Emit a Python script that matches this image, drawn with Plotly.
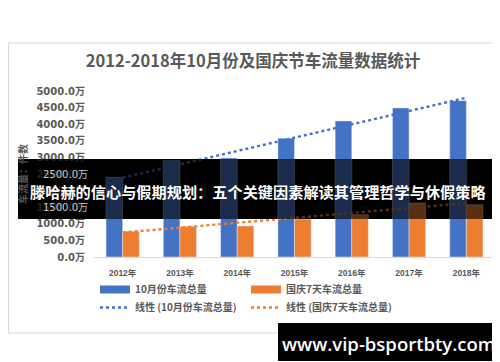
import numpy as np
import plotly.graph_objects as go

# ---- data ----
years = ["2012年", "2013年", "2014年", "2015年", "2016年", "2017年", "2018年"]
oct_total = [2400, 2900, 2980, 3580, 4100, 4490, 4710]      # 10月份车流总量 (万)
holiday_total = [775, 925, 935, 1145, 1275, 1625, 1575]     # 国庆7天车流总量 (万)
name_oct = "10月份车流总量"
name_hol = "国庆7天车流总量"
title_text = "2012-2018年10月份及国庆节车流量数据统计"
ytitle_text = "车流量：件数"
banner_text = "滕哈赫的信心与假期规划：五个关键因素解读其管理哲学与休假策略"
url_text = "www.vip-bsportbty.com"

BLUE = "#4472C4"
ORANGE = "#ED7D31"
GRAY = "#595959"

W, H = 500, 362
L, R, T, B = 86, 13, 83, 113
PW, PH = W - L - R, H - T - B


def px2x(px):
    return (px - L) / PW


def py2y(py):
    return (H - B - py) / PH


idx = np.arange(len(years))
k1, b1 = np.polyfit(idx, oct_total, 1)
k2, b2 = np.polyfit(idx, holiday_total, 1)
trend_oct = k1 * idx + b1
trend_hol = k2 * idx + b2

fig = go.Figure()
fig.add_trace(go.Bar(x=years, y=oct_total, name=name_oct, marker_color=BLUE,
                     showlegend=False))
fig.add_trace(go.Bar(x=years, y=holiday_total, name=name_hol, marker_color=ORANGE,
                     showlegend=False))
fig.add_trace(go.Scatter(x=years, y=trend_oct, mode="lines", showlegend=False,
                         line=dict(color=BLUE, width=2.4, dash="dot")))
fig.add_trace(go.Scatter(x=years, y=trend_hol, mode="lines", showlegend=False,
                         line=dict(color=ORANGE, width=2.4, dash="dot")))
# legend proxies (row 1: bars, row 2: trend lines)
fig.add_trace(go.Scatter(x=[None], y=[None], mode="lines", name=name_oct,
                         line=dict(color=BLUE, width=8), legend="legend"))
fig.add_trace(go.Scatter(x=[None], y=[None], mode="lines", name=name_hol,
                         line=dict(color=ORANGE, width=8), legend="legend"))
fig.add_trace(go.Scatter(x=[None], y=[None], mode="lines", name="线性 (" + name_oct + ")",
                         line=dict(color=BLUE, width=2.4, dash="dot"), legend="legend2"))
fig.add_trace(go.Scatter(x=[None], y=[None], mode="lines", name="线性 (" + name_hol + ")",
                         line=dict(color=ORANGE, width=2.4, dash="dot"), legend="legend2"))

TICKFONT = "DejaVu Sans, Noto Sans CJK SC, sans-serif"
LEGFONT = dict(family="Noto Sans CJK SC", size=10, color=GRAY, weight="bold")

shapes = [
    # chart frame
    dict(type="rect", xref="paper", yref="paper", x0=px2x(0.5), x1=px2x(499.5),
         y0=py2y(35), y1=py2y(325), line=dict(color="#D9D9D9", width=1),
         fillcolor="rgba(0,0,0,0)", layer="below"),
    # banner base (opaque under bars)
    dict(type="rect", xref="paper", yref="paper", x0=px2x(10), x1=px2x(490),
         y0=py2y(151), y1=py2y(211), line=dict(width=0), fillcolor="black",
         layer="below"),
    # banner darkening overlay
    dict(type="rect", xref="paper", yref="paper", x0=px2x(10), x1=px2x(490),
         y0=py2y(151), y1=py2y(211), line=dict(width=0),
         fillcolor="rgba(0,0,0,0.62)", layer="above"),
    # url box
    dict(type="rect", xref="paper", yref="paper", x0=px2x(270), x1=px2x(491),
         y0=py2y(315), y1=py2y(353), line=dict(width=0), fillcolor="black",
         layer="above"),
]

annotations = [
    dict(text=banner_text, xref="paper", yref="paper", x=px2x(250), y=py2y(183),
         showarrow=False, xanchor="center", yanchor="middle",
         font=dict(family="Noto Sans CJK SC", size=15.2, color="white", weight="bold")),
    dict(text=url_text, xref="paper", yref="paper", x=px2x(380), y=py2y(335),
         showarrow=False, xanchor="center", yanchor="middle",
         font=dict(family="Open Sans, DejaVu Sans", size=18.5, color="white", weight=600)),
    dict(text=ytitle_text, xref="paper", yref="paper", x=px2x(14), y=0.5,
         showarrow=False, xanchor="center", yanchor="middle", textangle=-90,
         font=dict(family="Noto Sans CJK SC", size=10, color=GRAY, weight="bold")),
]
for v in (2500, 1500):
    annotations.append(dict(text=f"{v:.1f}万", xref="paper", yref="y", x=px2x(80), y=v,
                            showarrow=False, xanchor="right", yanchor="middle",
                            xshift=2,
                            font=dict(family=TICKFONT, size=10, color="#C8C8C8")))

fig.update_layout(
    width=W, height=H,
    margin=dict(l=L, r=R, t=T, b=B, autoexpand=False),
    paper_bgcolor="white", plot_bgcolor="rgba(0,0,0,0)",
    barmode="group", bargap=0.42, bargroupgap=0,
    title=dict(text=title_text, x=0.49, xref="container", xanchor="center",
               y=1 - 53 / H, yref="container", yanchor="middle",
               font=dict(family="Noto Sans CJK SC", size=16.5, color=GRAY, weight="bold")),
    xaxis=dict(showgrid=False, showline=True, linecolor="#D9D9D9", linewidth=1,
               ticks="", ticklabelstandoff=8,
               tickfont=dict(family="Liberation Sans, Noto Sans CJK SC", size=8.5,
                             color=GRAY, weight="bold")),
    yaxis=dict(range=[0, 5000], dtick=500, tickformat=".1f", ticksuffix="万",
               showgrid=False, showline=False, zeroline=False, ticks="",
               ticklabelstandoff=8,
               tickfont=dict(family=TICKFONT, size=10, color=GRAY, weight="bold")),
    legend=dict(orientation="h", x=px2x(87), xanchor="left", y=py2y(267), yanchor="top",
                entrywidth=106, entrywidthmode="pixels", itemwidth=30,
                font=LEGFONT, bgcolor="rgba(0,0,0,0)"),
    legend2=dict(orientation="h", x=px2x(87), xanchor="left", y=py2y(285), yanchor="top",
                 entrywidth=106, entrywidthmode="pixels", itemwidth=30,
                 font=LEGFONT, bgcolor="rgba(0,0,0,0)"),
    shapes=shapes,
    annotations=annotations,
)

fig.write_html("out.html")
